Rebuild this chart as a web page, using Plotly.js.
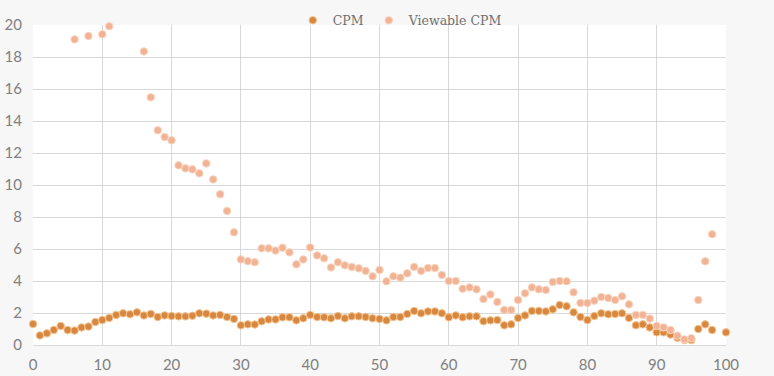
<!DOCTYPE html>
<html>
<head>
<meta charset="utf-8">
<script src="https://cdn.plot.ly/plotly-3.0.1.min.js"></script>
<style>html,body{margin:0;padding:0;background:#f7f7f7;}#chart{width:774px;height:376px;}</style>
</head>
<body>
<div id="chart"></div>
<script>
// x positions 0..100
const xValues = [];
for (let i = 0; i <= 100; i++) xValues.push(i);

const cpm = [
  1.31, 0.60, 0.73, 0.94, 1.19, 0.94, 0.90, 1.10, 1.15, 1.44,
  1.56, 1.69, 1.88, 1.98, 1.92, 2.04, 1.85, 1.94, 1.75, 1.85,
  1.81, 1.79, 1.79, 1.83, 1.98, 1.96, 1.85, 1.88, 1.75, 1.63,
  1.23, 1.29, 1.28, 1.48, 1.60, 1.60, 1.73, 1.73, 1.54, 1.67,
  1.88, 1.75, 1.73, 1.67, 1.81, 1.67, 1.79, 1.79, 1.75, 1.67,
  1.63, 1.54, 1.75, 1.75, 1.94, 2.13, 1.98, 2.10, 2.10, 1.98,
  1.73, 1.85, 1.73, 1.79, 1.79, 1.49, 1.54, 1.56, 1.23, 1.29,
  1.69, 1.85, 2.13, 2.13, 2.10, 2.23, 2.50, 2.42, 2.04, 1.75,
  1.56, 1.81, 1.98, 1.92, 1.94, 1.98, 1.69, 1.23, 1.29, 1.10,
  0.79, 0.79, 0.65, 0.46, 0.31, 0.31, 1.00, 1.29, 0.94, null,
  0.79
];

const viewableCpm = [
  null, null, null, null, null, null, 19.10, null, 19.31, null,
  19.42, 19.92, null, null, null, null, 18.35, 15.48, 13.42, 13.00,
  12.79, 11.23, 11.04, 10.98, 10.73, 11.35, 10.35, 9.42, 8.38, 7.04,
  5.35, 5.24, 5.17, 6.04, 6.04, 5.90, 6.08, 5.79, 5.04, 5.35,
  6.10, 5.60, 5.42, 4.85, 5.17, 4.98, 4.88, 4.79, 4.63, 4.29,
  4.69, 3.98, 4.29, 4.21, 4.48, 4.88, 4.63, 4.81, 4.81, 4.38,
  4.00, 4.00, 3.52, 3.60, 3.48, 2.87, 3.16, 2.69, 2.19, 2.19,
  2.81, 3.23, 3.60, 3.48, 3.44, 3.94, 4.00, 3.98, 3.29, 2.63,
  2.63, 2.77, 3.00, 2.94, 2.81, 3.04, 2.54, 1.88, 1.88, 1.65,
  1.19, 1.10, 0.94, 0.58, 0.35, 0.42, 2.81, 5.23, 6.92, null,
  null
];

const xTicks = [0, 10, 20, 30, 40, 50, 60, 70, 80, 90, 100];
const yTicks = [0, 2, 4, 6, 8, 10, 12, 14, 16, 18, 20];

const traces = [
  {
    x: xValues, y: cpm, name: 'CPM', type: 'scatter', mode: 'markers', cliponaxis: false,
    marker: {color: '#D8883E', size: 7.5, line: {color: '#F3C594', width: 1}}
  },
  {
    x: xValues, y: viewableCpm, name: 'Viewable CPM', type: 'scatter', mode: 'markers', cliponaxis: false,
    marker: {color: '#F1B394', size: 7.5, line: {color: '#F9D6C2', width: 1}}
  }
];

const layout = {
  width: 774, height: 376,
  margin: {l: 33, r: 48, t: 25, b: 31, autoexpand: false},
  paper_bgcolor: '#f7f7f7',
  plot_bgcolor: '#ffffff',
  showlegend: true,
  legend: {
    orientation: 'h', x: 0.53, xanchor: 'center',
    yref: 'container', y: 0.985, yanchor: 'top',
    font: {family: 'DejaVu Serif, Liberation Serif, serif', size: 12.5, color: '#707070'},
    bgcolor: 'rgba(0,0,0,0)', itemwidth: 16, tracegroupgap: 0
  },
  xaxis: {
    range: [0, 100], tickvals: xTicks, ticktext: xTicks.map(String),
    showgrid: true, gridcolor: '#d9d9d9', gridwidth: 1,
    zeroline: false, showline: true, linecolor: '#d9d9d9', ticks: '',
    ticklabelstandoff: 6,
    tickfont: {family: 'Lato, Open Sans, sans-serif', size: 15, color: '#808080'},
    fixedrange: true
  },
  yaxis: {
    range: [0, 20], tickvals: yTicks, ticktext: yTicks.map(String),
    showgrid: true, gridcolor: '#d9d9d9', gridwidth: 1,
    zeroline: false, showline: false, ticks: '',
    ticklabelstandoff: 10,
    tickfont: {family: 'Lato, Open Sans, sans-serif', size: 15, color: '#808080'},
    fixedrange: true
  }
};

Plotly.newPlot('chart', traces, layout, {displayModeBar: false, staticPlot: true});
</script>
</body>
</html>
